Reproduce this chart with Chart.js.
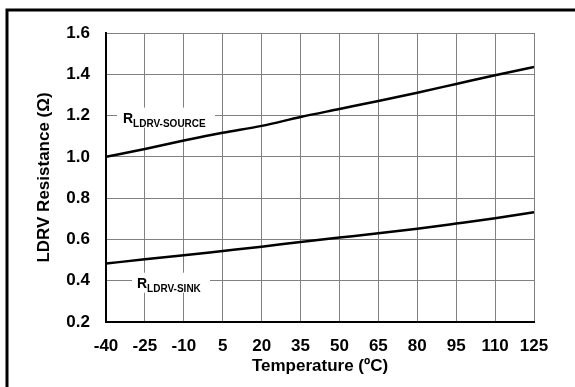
<!DOCTYPE html>
<html>
<head>
<meta charset="utf-8">
<script src="https://cdn.jsdelivr.net/npm/chart.js@4.4.1/dist/chart.umd.min.js"></script>
<style>
  html, body { margin: 0; padding: 0; background: #fff; }
  #wrap { position: relative; width: 575px; height: 387px; }
</style>
</head>
<body>
<div id="wrap"><canvas id="chart" width="575" height="387"></canvas></div>
<script>
const temps = [-40, -25, -10, 5, 20, 35, 50, 65, 80, 95, 110, 125];
const sourceOhm = [1.000, 1.038, 1.079, 1.117, 1.150, 1.193, 1.232, 1.271, 1.311, 1.353, 1.395, 1.435];
const sinkOhm = [0.483, 0.504, 0.523, 0.544, 0.565, 0.588, 0.609, 0.630, 0.652, 0.677, 0.703, 0.732];
const yTicks = [0.2, 0.4, 0.6, 0.8, 1.0, 1.2, 1.4, 1.6];

const FONT = "'Liberation Sans', Arial, sans-serif";

function pts(ys) {
    return temps.map((t, i) => ({ x: t, y: ys[i] }));
}

// outer frame (only top and left edges fall inside the picture)
const framePlugin = {
    id: 'frame',
    afterDraw(chart) {
        const ctx = chart.ctx;
        ctx.save();
        ctx.strokeStyle = '#000';
        ctx.lineWidth = 3;
        ctx.strokeRect(7, 10, 620, 420);
        ctx.restore();
    }
};

// R subscript labels sitting on the grid lines
const curveLabels = [
    { main: 'R', sub: 'LDRV-SOURCE', at: 1.2, dx: 17, boxL: 11, boxR: 109 },
    { main: 'R', sub: 'LDRV-SINK', at: 0.4, dx: 31, boxL: 26, boxR: 104 }
];

const labelPlugin = {
    id: 'curveLabels',
    afterDatasetsDraw(chart) {
        const ctx = chart.ctx;
        const x0 = chart.scales.x.left;
        ctx.save();
        curveLabels.forEach(l => {
            const yl = chart.scales.y.getPixelForValue(l.at);
            ctx.fillStyle = '#fff';
            ctx.fillRect(x0 + l.boxL, yl - 8, l.boxR - l.boxL, 20);
            ctx.fillStyle = '#000';
            ctx.textBaseline = 'alphabetic';
            ctx.textAlign = 'left';
            ctx.font = 'bold 14px ' + FONT;
            ctx.fillText(l.main, x0 + l.dx, yl + 7);
            const w = ctx.measureText(l.main).width;
            ctx.font = 'bold 10px ' + FONT;
            ctx.fillText(l.sub, x0 + l.dx + w, yl + 11);
        });
        ctx.restore();
    }
};

new Chart(document.getElementById('chart'), {
    type: 'line',
    data: {
        datasets: [
            { label: 'RLDRV-SOURCE', data: pts(sourceOhm) },
            { label: 'RLDRV-SINK', data: pts(sinkOhm) }
        ]
    },
    options: {
        responsive: false,
        animation: false,
        layout: { padding: { left: 34, top: 33, right: 41, bottom: 10 } },
        elements: {
            line: { borderColor: '#000', borderWidth: 2.5, tension: 0.3, cubicInterpolationMode: 'monotone' },
            point: { radius: 0 }
        },
        plugins: {
            legend: { display: false },
            tooltip: { enabled: false }
        },
        scales: {
            x: {
                type: 'linear',
                min: -40,
                max: 125,
                afterBuildTicks: s => { s.ticks = temps.map(v => ({ value: v })); },
                afterFit: s => { s.height = 55; },
                grid: { color: '#808080', lineWidth: 1, drawTicks: false },
                border: { color: '#000', width: 2 },
                ticks: {
                    color: '#000',
                    padding: 14,
                    maxRotation: 0,
                    autoSkip: false,
                    font: { family: FONT, size: 17, weight: 'bold' }
                },
                title: {
                    display: true,
                    text: 'Temperature (ºC)',
                    color: '#000',
                    padding: 0,
                    font: { family: FONT, size: 17, weight: 'bold' }
                }
            },
            y: {
                min: 0.2,
                max: 1.6,
                afterBuildTicks: s => { s.ticks = yTicks.map(v => ({ value: v })); },
                afterFit: s => { s.width = 72; },
                grid: { color: '#808080', lineWidth: 1, drawTicks: false },
                border: { color: '#000', width: 2 },
                ticks: {
                    color: '#000',
                    padding: 16,
                    callback: v => v.toFixed(1),
                    font: { family: FONT, size: 17, weight: 'bold' }
                },
                title: {
                    display: true,
                    text: 'LDRV Resistance (Ω)',
                    color: '#000',
                    padding: 0,
                    font: { family: FONT, size: 17, weight: 'bold' }
                }
            }
        }
    },
    plugins: [labelPlugin, framePlugin]
});
</script>
</body>
</html>
